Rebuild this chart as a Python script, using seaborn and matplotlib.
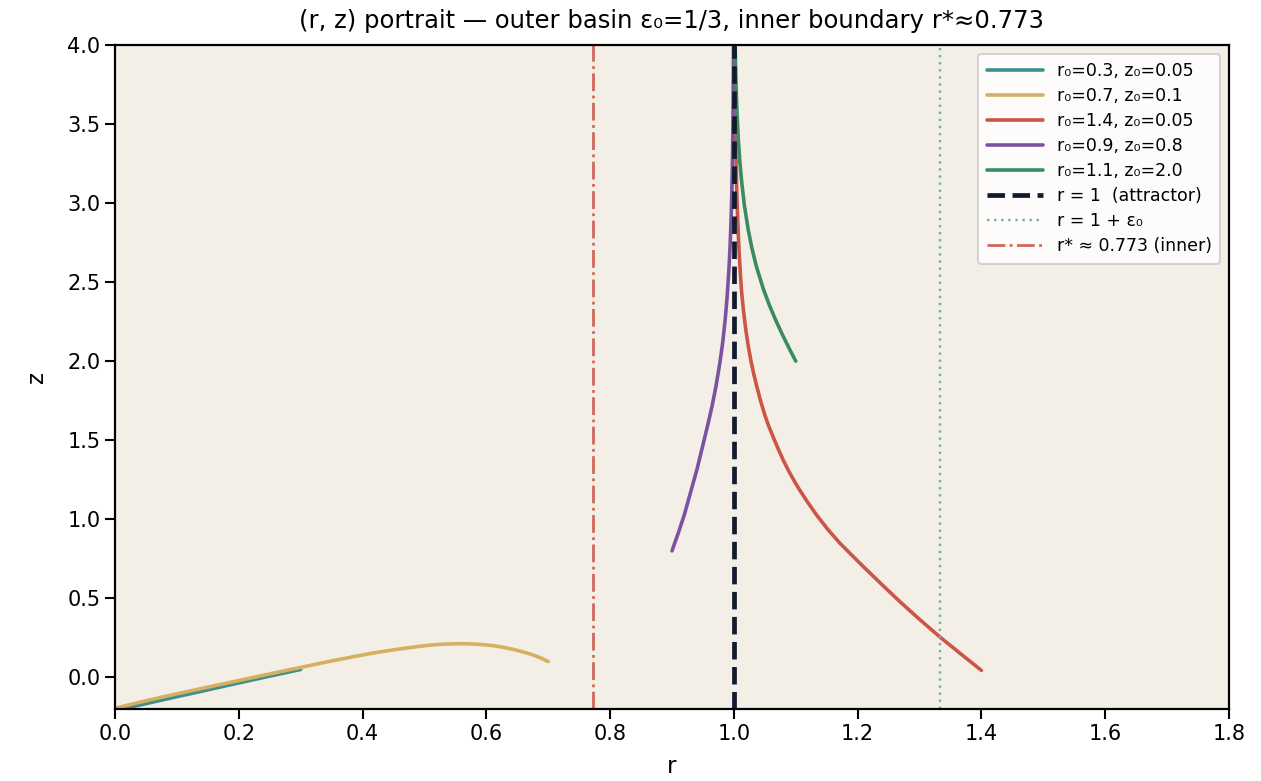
import numpy as np
import pandas as pd
import matplotlib
matplotlib.use("Agg")
import matplotlib.pyplot as plt
import seaborn as sns

# ---- data ----
teal_r = [0.30, 0.25, 0.20, 0.15, 0.10, 0.05, 0.00]
teal_z = [0.05, 0.008, -0.035, -0.079, -0.122, -0.166, -0.21]

yellow_r = [0.70, 0.69, 0.68, 0.67, 0.66, 0.65, 0.64, 0.63, 0.62, 0.61, 0.60, 0.59, 0.58,
            0.57, 0.56, 0.545, 0.53, 0.515, 0.50, 0.475, 0.45, 0.425, 0.40,
            0.35, 0.30, 0.25, 0.20, 0.15, 0.10, 0.05, 0.00]
yellow_z = [0.100, 0.119, 0.135, 0.149, 0.160, 0.171, 0.180, 0.188, 0.195, 0.201, 0.205, 0.208, 0.211,
            0.212, 0.213, 0.212, 0.210, 0.206, 0.200, 0.188, 0.174, 0.159, 0.142,
            0.104, 0.063, 0.022, -0.020, -0.062, -0.104, -0.148, -0.195]

red_r = [1.400, 1.370, 1.333, 1.300, 1.268, 1.240, 1.212, 1.190, 1.171, 1.152, 1.134,
         1.118, 1.106, 1.096, 1.088, 1.080, 1.072, 1.064, 1.056, 1.050, 1.043,
         1.0366, 1.032, 1.028, 1.0236, 1.0196, 1.016, 1.0126, 1.0105, 1.0086,
         1.0065, 1.0052, 1.0043, 1.0032, 1.0025, 1.0020, 1.0014, 1.0010]
red_z = [0.044, 0.138, 0.255, 0.367, 0.480, 0.584, 0.690, 0.775, 0.850, 0.935, 1.025,
         1.115, 1.187, 1.253, 1.310, 1.372, 1.442, 1.516, 1.592, 1.660, 1.751,
         1.847, 1.921, 1.994, 2.088, 2.190, 2.302, 2.433, 2.551, 2.681,
         2.863, 3.008, 3.132, 3.324, 3.484, 3.629, 3.861, 4.080]

purple_r = [0.900, 0.910, 0.920, 0.930, 0.940, 0.950, 0.958, 0.965, 0.971, 0.977,
            0.982, 0.986, 0.989, 0.992, 0.994, 0.9955, 0.9965, 0.9975, 0.9983,
            0.9989, 0.9993, 0.9995]
purple_z = [0.800, 0.911, 1.029, 1.170, 1.310, 1.470, 1.600, 1.720, 1.840, 1.980,
            2.119, 2.265, 2.402, 2.580, 2.738, 2.896, 3.034, 3.219, 3.431,
            3.670, 3.918, 4.103]

green_r = [1.100, 1.090, 1.079, 1.068, 1.058, 1.048, 1.0366, 1.029, 1.023, 1.017,
           1.0126, 1.0095, 1.007, 1.005, 1.0034, 1.0024, 1.0019]
green_z = [2.000, 2.076, 2.163, 2.256, 2.348, 2.452, 2.596, 2.717, 2.835, 2.986,
           3.133, 3.268, 3.414, 3.575, 3.760, 3.927, 4.040]

series_labels = ["r₀=0.3, z₀=0.05", "r₀=0.7, z₀=0.1", "r₀=1.4, z₀=0.05",
                 "r₀=0.9, z₀=0.8", "r₀=1.1, z₀=2.0"]
series_colors = ["#3d8f8c", "#d4b062", "#cc5646", "#7b52a0", "#3a8c60"]

attractor_r = 1.0
eps0 = 1.0 / 3.0
r_star = 0.773

x_ticks = [0.0, 0.2, 0.4, 0.6, 0.8, 1.0, 1.2, 1.4, 1.6, 1.8]
y_ticks = [0.0, 0.5, 1.0, 1.5, 2.0, 2.5, 3.0, 3.5, 4.0]

# ---- plot ----
sns.set_style("ticks", {"axes.facecolor": "#f4efe6", "axes.edgecolor": "black",
                        "text.color": "black", "axes.labelcolor": "black",
                        "xtick.color": "black", "ytick.color": "black"})
plt.rcParams["font.family"] = ["DejaVu Sans"]

fig = plt.figure(figsize=(12.61, 7.81), dpi=100)
ax = fig.add_axes([0.0912, 0.0922, 0.9746 - 0.0912, 0.9424 - 0.0922])

all_r = [teal_r, yellow_r, red_r, purple_r, green_r]
all_z = [teal_z, yellow_z, red_z, purple_z, green_z]
for rr, zz, lab, col in zip(all_r, all_z, series_labels, series_colors):
    df = pd.DataFrame({"r": rr, "z": zz})
    sns.lineplot(data=df, x="r", y="z", sort=False, estimator=None, ax=ax,
                 color=col, lw=2.6, label=lab)

ax.axvline(attractor_r, color="#111a2e", lw=3.4, ls=(0, (3.7, 1.6)),
           label="r = 1  (attractor)")
ax.axvline(1 + eps0, color="#6fafa7", lw=1.7, ls=(0, (1, 2.0)), label="r = 1 + ε₀")
ax.axvline(r_star, color="#d0685c", lw=2.0, ls="-.", label="r* ≈ 0.773 (inner)")

ax.set_xlim(0.0, 1.8)
ax.set_ylim(-0.2, 4.0)
ax.set_xticks(x_ticks)
ax.set_yticks(y_ticks)
ax.tick_params(labelsize=15, length=7, width=1.5, colors="black")
for s in ax.spines.values():
    s.set_linewidth(1.6)
    s.set_color("black")

ax.set_xlabel("r", fontsize=16.5, labelpad=8, color="black")
ax.set_ylabel("z", fontsize=16.5, labelpad=14, color="black")
ax.set_title("(r, z) portrait — outer basin ε₀=1/3, inner boundary r*≈0.773",
             fontsize=17.5, pad=12, color="black")

leg = ax.legend(loc="upper right", fontsize=12.5, frameon=True, handlelength=3.2,
                borderpad=0.5, labelspacing=0.4, borderaxespad=0.5)
for t in leg.get_texts():
    t.set_color("black")
leg.get_frame().set_facecolor("white")
leg.get_frame().set_alpha(0.85)
leg.get_frame().set_edgecolor("#cccccc")
leg.get_frame().set_linewidth(1.5)

fig.savefig("out.png", dpi=100)
